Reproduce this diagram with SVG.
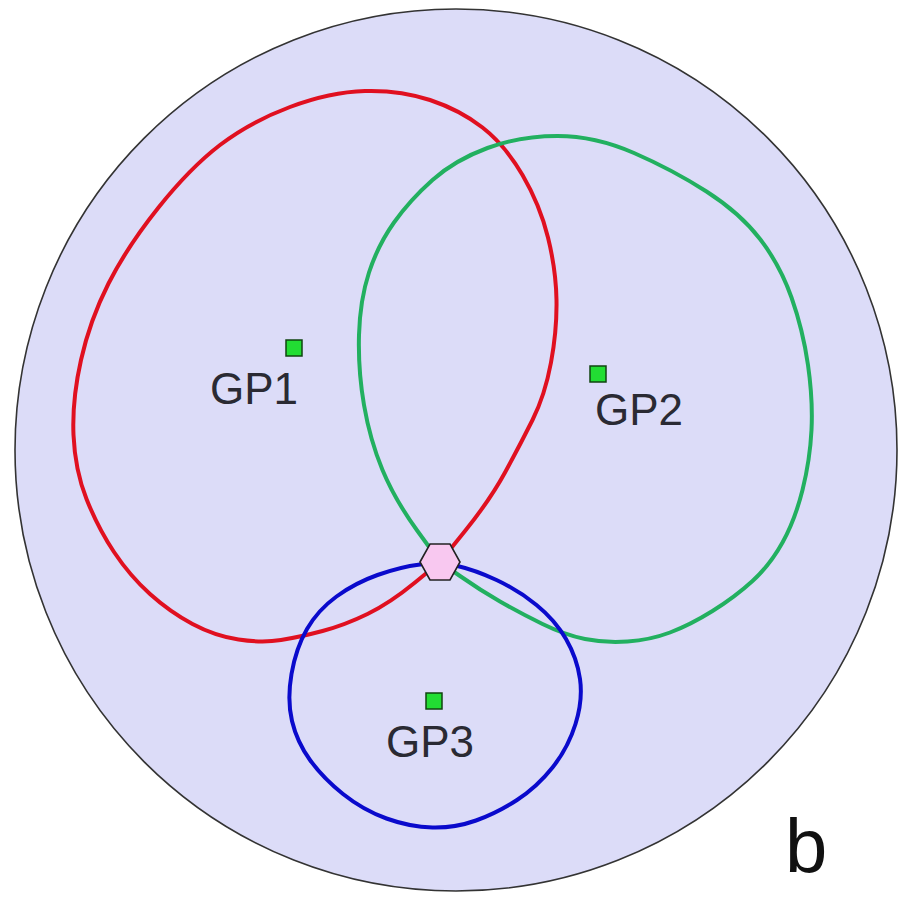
<svg xmlns="http://www.w3.org/2000/svg" width="909" height="897" viewBox="0 0 909 897">
<style>
  .curve{fill:none;stroke-width:4;stroke-linejoin:round;stroke-linecap:round}
  .gp{fill:#22dd33;stroke:#114411;stroke-width:1.5}
  .lbl{font-family:"Liberation Sans",Arial,sans-serif;font-size:44px;fill:#2a2a33}
</style>
<rect width="909" height="897" fill="#ffffff"/>
<g id="boundary">
  <circle cx="456" cy="450" r="441" fill="#dcdcf8" stroke="#333333" stroke-width="1.6"/>
</g>
<g id="connectors">
  <path id="red" class="curve" stroke="#e01020" d="M440,562 L465,531 Q490,500 505,472.5 Q520,445 532.5,420 Q545,395 551,362.5 Q557,330 556.5,300 Q556,270 548,237.5 Q540,205 522.5,175 Q505,145 482.5,127.5 Q460,110 430,100 Q400,90 365,91 Q330,92 290,107 Q250,122 220,145 Q190,168 158.5,207.5 Q127,247 108.5,283.5 Q90,320 81,360 Q72,400 73.5,435 Q75,470 86.5,499 Q98,528 114,552 Q130,576 150,594 Q170,612 192.5,624 Q215,636 238.5,639.5 Q262,643 281,640 Q300,637 322.5,631 Q345,625 367.5,614 Q390,603 415,582.5 L440,562"/>
  <path id="green" class="curve" stroke="#22b060" d="M440,562 L417.5,531 Q395,500 382.5,470 Q370,440 364,405 Q358,370 359,335 Q360,300 369,272.5 Q378,245 394,222.5 Q410,200 432.5,180 Q455,160 487.5,148 Q520,136 557.5,136 Q595,136 634,153 Q673,170 706.5,191.5 Q740,213 760,239 Q780,265 791.5,297.5 Q803,330 808,365 Q813,400 811.5,430 Q810,460 802.5,490 Q795,520 782.5,542.5 Q770,565 752.5,581 Q735,597 712.5,611 Q690,625 670,632.5 Q650,640 627.5,641.5 Q605,643 585,639 Q565,635 542.5,624 Q520,613 500,601.5 Q480,590 460,576 L440,562"/>
  <path id="blue" class="curve" stroke="#0a0acc" stroke-width="4.5" d="M440,562 L420,564.5 Q400,567 377.5,575 Q355,583 336.5,596.5 Q318,610 307,629 Q296,648 291.5,674 Q287,700 292,721 Q297,742 310,760 Q323,778 343,794 Q363,810 386.5,818.5 Q410,827 432.5,827.5 Q455,828 476,820.5 Q497,813 517,800 Q537,787 552.5,767.5 Q568,748 575.5,724 Q583,700 580,679 Q577,658 566,639 Q555,620 536.5,605 Q518,590 496.5,580 Q475,570 457.5,566 L440,562"/>
</g>
<g id="intersection">
  <polygon points="420,562 430,544 450,544 460,562 450,580 430,580" fill="#f8c8f0" stroke="#222222" stroke-width="1.6"/>
</g>
<g id="GP1">
  <rect class="gp" x="286" y="340" width="16" height="16"/>
  <text class="lbl" x="210" y="404">GP1</text>
</g>
<g id="GP2">
  <rect class="gp" x="590" y="366" width="16" height="16"/>
  <text class="lbl" x="595" y="425">GP2</text>
</g>
<g id="GP3">
  <rect class="gp" x="426" y="693" width="16" height="16"/>
  <text class="lbl" x="386" y="757">GP3</text>
</g>
<g id="label-b">
  <text x="785" y="872" font-family="'Liberation Sans',Arial,sans-serif" font-size="76" fill="#111111">b</text>
</g>
</svg>
